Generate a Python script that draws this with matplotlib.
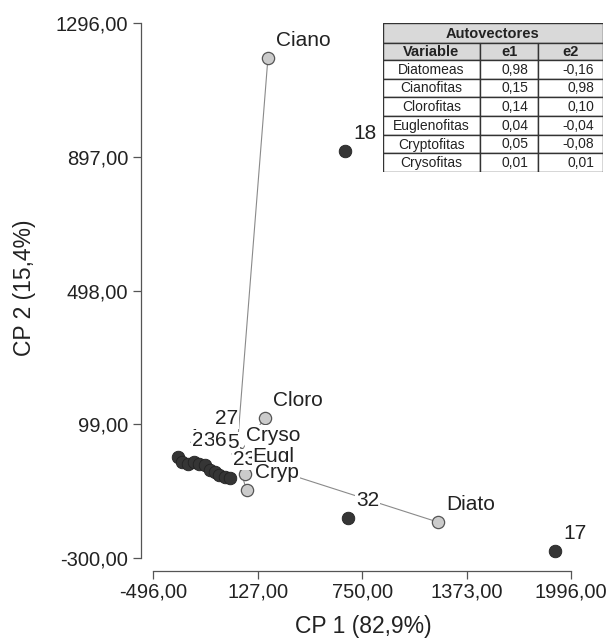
import matplotlib
matplotlib.use("Agg")
import matplotlib.pyplot as plt
from matplotlib.patches import Rectangle

plt.rcParams['font.family'] = ['Liberation Sans', 'DejaVu Sans']

# ---------------- data ----------------
# observation scores (CP1, CP2)
obs_x = [648, 666, 1900, -350, -327, -289, -253, -223, -188, -158, -128, -104, -68, -38]
obs_y = [915, -181, -278, 2, -13, -19, -13, -19, -22, -37, -43, -52, -58, -61]
obs_labels = ['18', '32', '17', '1', '2', '', '3', '', '6', '27', '', '5', '23', '']

# variable (eigenvector) points
var_names = ['Diato', 'Ciano', 'Cloro', 'Cryso', 'Eugl', 'Cryp']
var_x = [1203, 188, 170, 12, 49, 61]
var_y = [-193, 1193, 118, 12, -49, -98]

x_ticks = [-496, 127, 750, 1373, 1996]
x_tick_labels = ['-496,00', '127,00', '750,00', '1373,00', '1996,00']
y_ticks = [-300, 99, 498, 897, 1296]
y_tick_labels = ['-300,00', '99,00', '498,00', '897,00', '1296,00']

x_title = 'CP 1 (82,9%)'
y_title = 'CP 2 (15,4%)'

table_title = 'Autovectores'
table_header = ['Variable', 'e1', 'e2']
table_vars = ['Diatomeas', 'Cianofitas', 'Clorofitas', 'Euglenofitas', 'Cryptofitas', 'Crysofitas']
table_e1 = ['0,98', '0,15', '0,14', '0,04', '0,05', '0,01']
table_e2 = ['-0,16', '0,98', '0,10', '-0,04', '-0,08', '0,01']

# ---------------- figure ----------------
W, H = 616, 642
fig = plt.figure(figsize=(W / 100, H / 100), dpi=100)
fig.patch.set_facecolor('white')

L, R, T, B = 153.3, 571.0, 23.3, 558.0
ax = fig.add_axes([L / W, 1 - B / H, (R - L) / W, (B - T) / H])
ax.set_xlim(-496, 1996)
ax.set_ylim(-300, 1296)
ax.set_facecolor('none')

spine_col = '#555555'
txt_col = '#222222'
for s in ['top', 'right']:
    ax.spines[s].set_visible(False)
ax.spines['left'].set_position(('outward', 8.9))
ax.spines['bottom'].set_position(('outward', 9.7))
for s in ['left', 'bottom']:
    ax.spines[s].set_color(spine_col)
    ax.spines[s].set_linewidth(0.9)

ax.set_xticks(x_ticks)
ax.set_xticklabels(x_tick_labels)
ax.set_yticks(y_ticks)
ax.set_yticklabels(y_tick_labels)
ax.tick_params(axis='both', direction='out', length=5.5, width=0.9, color=spine_col,
               labelsize=14.5, labelcolor=txt_col)
ax.tick_params(axis='x', pad=2.5)
ax.tick_params(axis='y', pad=3.5)

fig.text(363 / W, 1 - 627 / H, x_title, ha='center', va='center', fontsize=16.5, color=txt_col)
fig.text(25 / W, 1 - 288 / H, y_title, ha='center', va='center', rotation=90, fontsize=16.5, color=txt_col)

# lines from origin to variables
for vx, vy in zip(var_x, var_y):
    ax.plot([0, vx], [0, vy], color='#8a8a8a', lw=0.8, zorder=1, clip_on=False)

# points
ax.scatter(obs_x, obs_y, s=82, c='#353535', edgecolors='#222222', linewidths=0.6, zorder=2, clip_on=False)
ax.scatter(var_x, var_y, s=78, c='#cbcbcb', edgecolors='#555555', linewidths=0.9, zorder=2, clip_on=False)

px2pt = 0.72
default_off = (8, -17.5)
obs_offsets = {'1': (11, -19), '2': (10, -21), '3': (9, -21), '6': (10, -24),
               '27': (5, -51.5), '5': (8, -32), '23': (8, -17)}
label_order = ['18', '32', '17', '27', '1', '2', '3', '6', '5', '23']
lab_fs = 15
bbox = dict(boxstyle='square,pad=0.05', fc='white', ec='none')

z = 3
for lab in label_order:
    i = obs_labels.index(lab)
    dx, dy = obs_offsets.get(lab, default_off)
    ax.annotate(lab, (obs_x[i], obs_y[i]), xytext=(dx * px2pt, -dy * px2pt),
                textcoords='offset points', ha='left', va='center', fontsize=lab_fs,
                color=txt_col, bbox=bbox, zorder=z, annotation_clip=False)
    z += 0.01

for name, vx, vy in zip(var_names, var_x, var_y):
    dx, dy = default_off
    ax.annotate(name, (vx, vy), xytext=(dx * px2pt, -dy * px2pt),
                textcoords='offset points', ha='left', va='center', fontsize=lab_fs,
                color=txt_col, bbox=bbox, zorder=z, annotation_clip=False)
    z += 0.01

# ---------------- table ----------------
tx0, ty0, tw, th = 383, 23, 220, 149
axt = fig.add_axes([tx0 / W, 1 - (ty0 + th) / H, tw / W, th / H])
axt.set_xlim(0, tw)
axt.set_ylim(th, 0)
axt.axis('off')

col_edges = [0, 97, 155, 220]
title_h, head_h = 20, 17
row_h = (th - title_h - head_h) / len(table_vars)
edge = '#333333'
fill = '#d9d9d9'

axt.add_patch(Rectangle((0, 0), tw, title_h, fc=fill, ec=edge, lw=1.0))
axt.text(tw / 2, title_h / 2 + 0.5, table_title, ha='center', va='center', fontsize=10.5,
         fontweight='bold', color=txt_col)
for j, hd in enumerate(table_header):
    x0, x1 = col_edges[j], col_edges[j + 1]
    axt.add_patch(Rectangle((x0, title_h), x1 - x0, head_h, fc=fill, ec=edge, lw=1.0))
    axt.text((x0 + x1) / 2, title_h + head_h / 2 + 0.5, hd, ha='center', va='center',
             fontsize=10.5, fontweight='bold', color=txt_col)
for i, (vn, a, b) in enumerate(zip(table_vars, table_e1, table_e2)):
    y0 = title_h + head_h + i * row_h
    for j in range(3):
        x0, x1 = col_edges[j], col_edges[j + 1]
        axt.add_patch(Rectangle((x0, y0), x1 - x0, row_h, fc='white', ec=edge, lw=1.0))
    yc = y0 + row_h / 2 + 0.5
    axt.text((col_edges[0] + col_edges[1]) / 2, yc, vn, ha='center', va='center', fontsize=10, color=txt_col)
    axt.text(col_edges[2] - 10, yc, a, ha='right', va='center', fontsize=10, color=txt_col)
    axt.text(col_edges[3] - 9, yc, b, ha='right', va='center', fontsize=10, color=txt_col)

fig.savefig('out.png', dpi=100, facecolor='white')
